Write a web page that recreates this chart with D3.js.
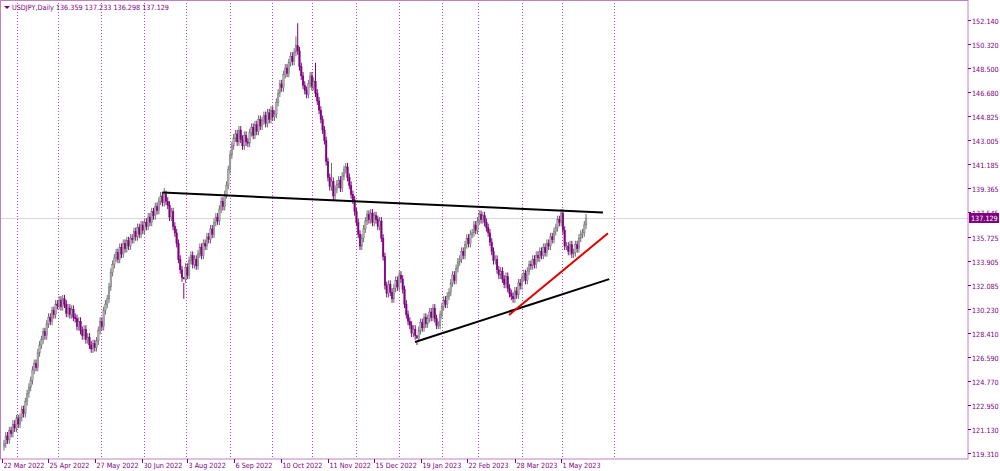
<!DOCTYPE html>
<html><head><meta charset="utf-8">
<script src="https://cdn.jsdelivr.net/npm/d3@7/dist/d3.min.js"></script>
<style>body{margin:0;background:#fff}svg{display:block}text{font-family:"DejaVu Sans Condensed","Liberation Sans Narrow","DejaVu Sans",sans-serif}</style>
</head><body><svg id="c" width="1000" height="471"></svg>
<script>
const closes=[
120.0,120.6,120.3,121.0,120.8,121.5,121.2,121.9,121.5,122.0,
122.6,122.3,123.2,123.8,124.3,124.8,125.6,126.1,125.8,126.9,
127.5,127.9,128.5,128.2,129.1,129.6,129.3,130.1,129.8,130.6,
130.5,130.9,130.4,131.0,130.6,129.9,130.3,129.8,130.2,129.6,
129.5,128.9,129.3,128.6,128.2,128.7,127.9,128.1,127.5,127.2,
127.6,127.3,127.8,128.6,129.3,128.9,130.1,130.6,131.0,131.9,
133.0,133.6,134.1,134.5,134.0,134.9,134.4,135.2,134.8,135.4,
135.0,135.6,135.5,136.1,135.7,136.4,135.9,136.6,136.2,136.8,
136.5,137.2,136.8,137.6,137.3,138.0,137.7,138.4,138.8,138.3,
138.9,138.4,138.1,137.2,137.6,136.5,136.0,135.2,134.0,133.2,
132.6,132.5,133.4,132.8,133.9,134.3,133.6,134.0,133.5,134.4,
134.9,134.3,135.2,135.0,135.7,135.5,136.3,135.9,136.8,137.2,
136.9,137.8,138.4,138.0,138.9,139.6,140.8,141.9,142.6,143.2,
143.5,142.9,143.8,143.1,142.6,143.4,142.9,142.8,143.6,144.0,
143.4,144.2,143.7,144.6,144.1,144.5,144.9,144.3,145.1,144.6,
145.3,144.8,145.0,145.9,146.6,147.3,147.0,148.0,148.5,148.1,
148.9,149.4,149.0,149.7,150.2,149.8,148.6,147.9,147.2,146.8,
146.5,147.3,147.9,147.1,147.5,146.6,146.0,145.3,144.6,143.8,
143.0,141.4,140.2,139.5,139.9,138.8,139.3,139.7,140.0,139.4,
140.3,140.8,141.0,140.2,139.6,138.9,138.5,137.6,136.8,135.9,
135.0,135.6,136.3,136.9,137.4,137.0,137.5,136.8,137.3,137.0,
136.5,136.9,135.6,134.2,132.0,131.4,132.1,131.5,131.0,131.8,
132.4,131.9,132.8,132.5,131.7,130.6,129.8,129.3,129.0,128.4,
128.7,128.2,128.0,128.6,129.2,128.8,129.6,129.1,129.5,130.0,
129.6,130.3,129.5,129.0,129.0,129.8,130.4,130.9,130.6,131.2,
131.5,132.2,132.8,132.4,133.3,133.8,134.0,134.6,134.3,135.1,
135.6,135.2,135.9,136.0,136.6,136.2,136.9,137.4,137.0,137.3,
136.8,136.4,136.0,135.3,134.6,133.9,134.0,133.2,132.8,133.1,
132.5,132.1,132.7,131.8,131.4,131.2,131.0,131.6,131.3,132.2,
132.0,132.6,132.9,132.4,133.1,133.6,133.5,134.0,133.6,134.3,
134.1,134.6,134.3,134.9,134.5,135.2,135.0,135.7,135.5,136.1,
136.4,137.0,136.8,137.5,136.2,135.0,135.0,134.6,135.1,134.4,
134.5,135.1,134.8,135.6,135.9,136.0,136.6,137.129];
const firstOpen=119.8;
const spikes=[[90,139.4],[165,151.9],[164,150.9],[175,148.9],[184,141.3],[313,137.8],[101,131.0],[232,127.5]];
const priceTicks=[152.140,150.320,148.500,146.680,144.825,143.005,141.185,139.365,137.545,135.725,133.905,132.085,130.230,128.410,126.590,124.770,122.950,121.130,119.310];
const dateLabels=["22 Mar 2022","25 Apr 2022","27 May 2022","30 Jun 2022","3 Aug 2022","6 Sep 2022","10 Oct 2022","11 Nov 2022","15 Dec 2022","19 Jan 2023","22 Feb 2023","28 Mar 2023","1 May 2023"];
const dateIdx=[-1,24.7,51,77.4,103,129,155.4,181.8,208,234,260,287,313];
const monthIdx=[7.3,30.3,54.4,78.5,102,126.8,150.3,173.3,198,222,246,266.5,291,313.5,342.7];
const trendLines=[{a:[89,139.06],b:[336.5,137.55],c:"#000"},{a:[230.9,127.73],b:[340,132.49],c:"#000"},{a:[283.7,129.77],b:[339.3,135.97],c:"#e00000"}];
const lastPrice=137.129, title="USDJPY,Daily  136.359 137.233 136.298 137.129";

const L=0,R=968,T=0,B=459;
const x=d3.scaleLinear().domain([0,541]).range([4,967]);
const y=d3.scaleLinear().domain([119.31,152.14]).range([453,20]);
const svg=d3.select("#c");
const purple="#800080", axisC="#c080c0", fs=7.2;
const bars=closes.map((c,i)=>{const o=i?closes[i-1]:firstOpen;return {i,o,c,h:Math.max(o,c)+0.3,l:Math.min(o,c)-0.3};});
spikes.forEach(([i,h])=>{bars[i].h=h;});
svg.append("g").selectAll("line").data(monthIdx).join("line")
 .attr("x1",d=>Math.round(x(d))+.5).attr("x2",d=>Math.round(x(d))+.5).attr("y1",T).attr("y2",B)
 .attr("stroke","#c040c0").attr("stroke-dasharray","1,2");
svg.append("line").attr("x1",0).attr("x2",R).attr("y1",Math.round(y(lastPrice))+.5).attr("y2",Math.round(y(lastPrice))+.5).attr("stroke","#d8d8d8");
const g=svg.append("g");
g.selectAll("line").data(bars).join("line")
 .attr("x1",d=>x(d.i)).attr("x2",d=>x(d.i)).attr("y1",d=>y(d.h)).attr("y2",d=>y(d.l))
 .attr("stroke",d=>d.c>=d.o?"#707070":purple).attr("stroke-width",1);
g.selectAll("rect").data(bars).join("rect")
 .attr("x",d=>x(d.i)-0.8).attr("width",1.6)
 .attr("y",d=>y(Math.max(d.o,d.c))).attr("height",d=>Math.max(1,Math.abs(y(d.o)-y(d.c))))
 .attr("fill",d=>d.c>=d.o?"#b0b0b0":purple).attr("stroke",d=>d.c>=d.o?"#707070":purple).attr("stroke-width",0.4);
svg.append("g").selectAll("line").data(trendLines).join("line")
 .attr("x1",d=>x(d.a[0])).attr("y1",d=>y(d.a[1])).attr("x2",d=>x(d.b[0])).attr("y2",d=>y(d.b[1]))
 .attr("stroke",d=>d.c).attr("stroke-width",2);
svg.append("rect").attr("x",0.5).attr("y",0.5).attr("width",R-0.5).attr("height",B-0.5).attr("fill","none").attr("stroke",axisC);
const pa=svg.append("g");
priceTicks.forEach(p=>{const yy=Math.round(y(p))+.5;
 pa.append("line").attr("x1",R).attr("x2",R+3).attr("y1",yy).attr("y2",yy).attr("stroke",purple);
 pa.append("text").attr("x",R+4).attr("y",yy+3).attr("font-size",fs).attr("fill",purple).text(p.toFixed(3));});
const ly=Math.round(y(lastPrice));
pa.append("rect").attr("x",R+1).attr("y",ly-5).attr("width",30).attr("height",10).attr("fill",purple);
pa.append("text").attr("x",R+3).attr("y",ly+3).attr("font-size",fs).attr("fill","#fff").text(lastPrice.toFixed(3));
const da=svg.append("g");
dateLabels.forEach((t,k)=>{const xx=Math.round(x(dateIdx[k]))+.5;
 da.append("line").attr("x1",xx).attr("x2",xx).attr("y1",B).attr("y2",B+4).attr("stroke",purple);
 da.append("text").attr("x",xx+1).attr("y",B+9).attr("font-size",fs).attr("fill",purple).text(t);});
svg.append("path").attr("d","M4,6 L10,6 L7,9 Z").attr("fill",purple);
svg.append("text").attr("x",12).attr("y",10).attr("font-size",fs).attr("fill",purple).text(title);
</script></body></html>
